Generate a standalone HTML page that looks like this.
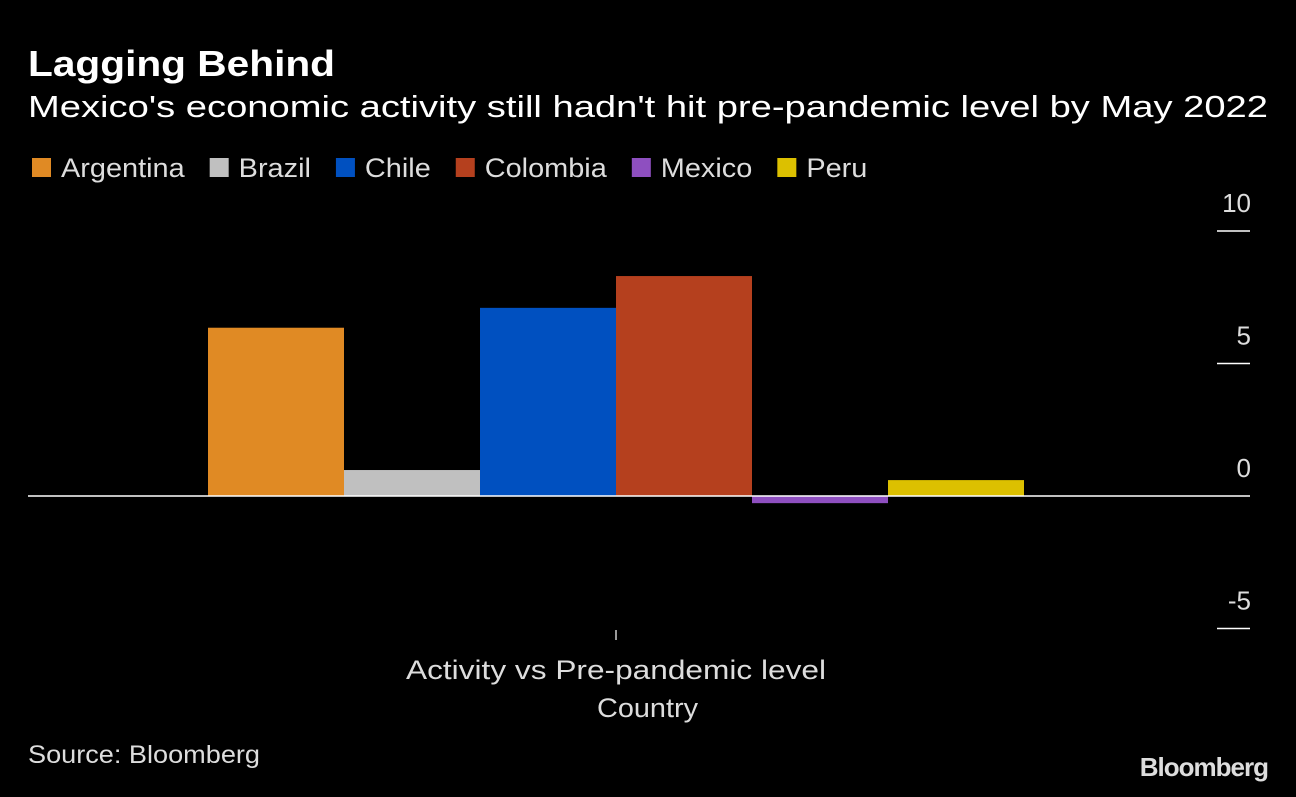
<!DOCTYPE html>
<html><head><meta charset="utf-8"><style>
body{margin:0;background:#000;width:1296px;height:792px;overflow:hidden;font-family:"Liberation Sans",sans-serif;color:#fff}
svg text{font-family:"Liberation Sans",sans-serif}
</style></head><body>
<svg width="1296" height="792">
<text x="28" y="76" font-size="36" font-weight="bold" fill="#fff" textLength="307" lengthAdjust="spacingAndGlyphs">Lagging Behind</text>
<text x="28" y="117" font-size="31" fill="#fff" textLength="1240" lengthAdjust="spacingAndGlyphs">Mexico's economic activity still hadn't hit pre-pandemic level by May 2022</text>
<g id="legend"></g>
<g id="axis"></g>
<g id="bars"></g>
<line x1="28" x2="1250" y1="496" y2="496" stroke="#fff" stroke-width="1.5"/>
<line x1="616" x2="616" y1="630" y2="640" stroke="#ccc" stroke-width="1.5"/>
<text x="406" y="679" font-size="27" fill="#ddd" textLength="420" lengthAdjust="spacingAndGlyphs">Activity vs Pre-pandemic level</text>
<text x="597" y="717" font-size="27" fill="#ddd" textLength="101" lengthAdjust="spacingAndGlyphs">Country</text>
<text x="28" y="763" font-size="25" fill="#ddd" textLength="232" lengthAdjust="spacingAndGlyphs">Source: Bloomberg</text>
<text x="1268" y="776" font-size="26" font-weight="bold" fill="#ddd" text-anchor="end" letter-spacing="-1">Bloomberg</text>
</svg>
<script>
const categories=["Argentina","Brazil","Chile","Colombia","Mexico","Peru"];
const values=[6.35,0.98,7.1,8.3,-0.27,0.6];
const colors=["#e08a24","#c0c0c0","#0050c0","#b5401e","#8e4fc0","#dcc000"];
const ticks=[10,5,0,-5];
const NS="http://www.w3.org/2000/svg";
const y=v=>496-v*26.5;
const bw=136,x0=208;
const bars=document.getElementById('bars'),ax=document.getElementById('axis'),lg=document.getElementById('legend');
function mk(t,a,p){const e=document.createElementNS(NS,t);for(const k in a)e.setAttribute(k,a[k]);p.appendChild(e);return e;}
values.forEach((v,i)=>{
 const r=mk('rect',{x:x0+i*bw,y:Math.min(y(v),y(0)),width:bw,height:Math.abs(y(v)-y(0)),fill:colors[i]},bars);
 
 
});
ticks.forEach(t=>{
 if(t!==0){const l=mk('line',{x1:1217,x2:1250,y1:y(t),y2:y(t),stroke:'#fff','stroke-width':1.5},ax);
 
 }
 const tx=mk('text',{x:1251,y:y(t)-19,'font-size':26,fill:'#ddd','text-anchor':'end'},ax);
 tx.textContent=t;
 
 
});
let lx=32;
categories.forEach((c,i)=>{
 const g=mk('g',{},lg);
 
 
 mk('rect',{x:lx,y:158,width:19,height:19,fill:colors[i]},g);
 const t=mk('text',{x:lx+29,y:177,'font-size':27,fill:'#ddd'},g);
 t.textContent=c;
 const w=t.getComputedTextLength()*1.07;
 t.setAttribute('textLength',w);
 t.setAttribute('lengthAdjust','spacingAndGlyphs');
 lx+=29+w+25;
});
</script>
</body></html>
